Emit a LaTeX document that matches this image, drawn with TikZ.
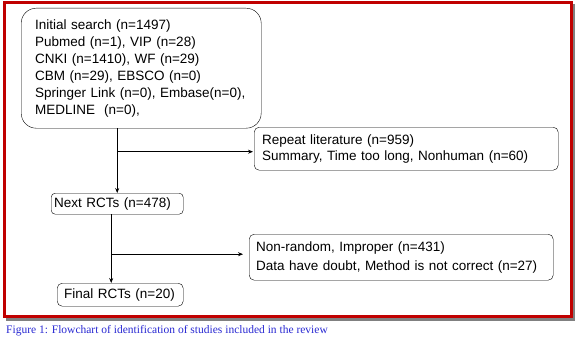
\documentclass[tikz,border=0pt]{standalone}
\usepackage{fontspec}
\setmainfont{Liberation Sans}
\newfontfamily\capfont{Liberation Serif}
\usetikzlibrary{arrows.meta,positioning,calc}
\definecolor{framered}{RGB}{192,0,0}
\definecolor{capblue}{RGB}{40,40,210}

\begin{document}
\begin{tikzpicture}[
  x=1pt, y=-1pt,
  stage/.style={draw, rounded corners=5pt, anchor=north west, align=left,
    inner ysep=1pt, font=\fontsize{13.5}{17}\selectfont},
  arr/.style={-{Stealth[length=5pt, width=4pt]}, line width=0.7pt}
]
  \useasboundingbox (0,0) rectangle (575,342);
  % frame with shadow
  \draw[gray, line width=3pt] (7,6) rectangle (574,319);
  \draw[framered, fill=white, line width=3pt] (4,3) rectangle (571,316);

  \node[stage, rounded corners=15pt, inner xsep=14pt, text width=212pt,
    minimum height=120pt] (init) at (21,8)
    {Initial search (n=1497)\\ Pubmed (n=1), VIP (n=28)\\ CNKI (n=1410), WF (n=29)\\
     CBM (n=29), EBSCO (n=0)\\ Springer Link (n=0), Embase(n=0),\\ MEDLINE\ \ (n=0),};
  \node[stage, inner xsep=8pt, text width=288pt, minimum height=43pt,
    font=\fontsize{13.5}{16}\selectfont] (repeat) at (254,127)
    {Repeat literature (n=959)\\ Summary, Time too long, Nonhuman (n=60)};
  \node[stage, rounded corners=4pt, inner xsep=3pt, text width=126pt,
    minimum height=21pt] (next) at (51,193) {Next RCTs (n=478)};
  \node[stage, inner xsep=7pt, text width=290pt, minimum height=46pt,
    font=\fontsize{13.5}{19}\selectfont] (nonrand) at (249,234)
    {Non-random, Improper (n=431)\\ Data have doubt, Method is not correct (n=27)};
  \node[stage, inner xsep=7pt, text width=112pt, minimum height=23pt] (final) at (57,283)
    {Final RCTs (n=20)};

  \coordinate (stem) at ([xshift=-6pt]next.south);
  \draw[arr] (init.south -| next.north) -- (next.north);
  \draw[arr] ([yshift=-3pt]repeat.west -| next.north) -- ([yshift=-3pt,xshift=-1pt]repeat.west);
  \draw[arr] (stem) -- (stem |- final.north);
  \draw[arr] ([yshift=3pt]nonrand.west -| stem) -- ([yshift=3pt,xshift=-6pt]nonrand.west);

  \node[anchor=west, inner sep=0pt, text=capblue, font=\capfont\fontsize{11.5}{13}\selectfont]
    (caption) at (6,331) {Figure 1: Flowchart of identification of studies included in the review};
\end{tikzpicture}
\end{document}
